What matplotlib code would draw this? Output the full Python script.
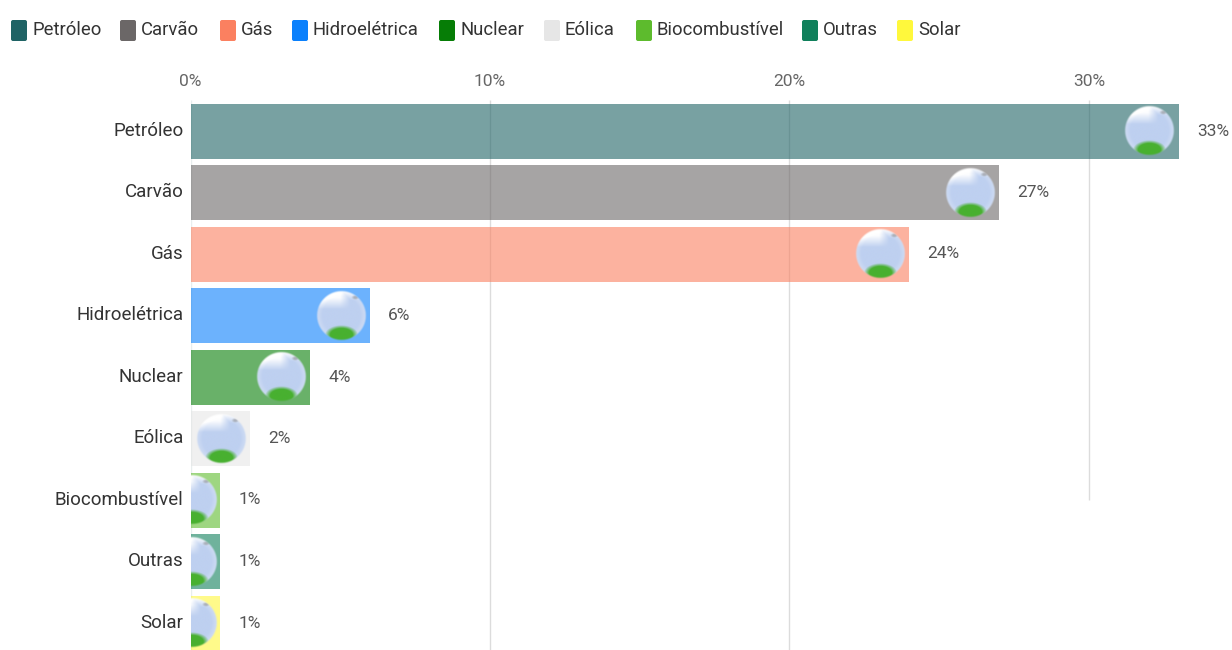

import numpy as np
import matplotlib
matplotlib.use("Agg")
import matplotlib.pyplot as plt
from matplotlib.patches import FancyBboxPatch
from matplotlib.transforms import ScaledTranslation

plt.rcParams['font.family'] = ['Roboto', 'DejaVu Sans']

# dados do gráfico
fontes = ["Petróleo", "Carvão", "Gás", "Hidroelétrica", "Nuclear", "Eólica",
          "Biocombustível", "Outras", "Solar"]
valores = [33, 27, 24, 6, 4, 2, 1, 1, 1]
cores = ["#1f6365", "#6b6767", "#fb8060", "#0a80fc", "#067d06", "#e6e6e6",
         "#5dbb2d", "#10805b", "#fff83c"]
ticks = [0, 10, 20, 30]
legenda_x = [11, 120, 220, 292, 439, 544, 636, 802, 897]

W, H = 1232, 650
fig = plt.figure(figsize=(W / 100, H / 100), dpi=100)
top = 100
ax = fig.add_axes([190.5 / W, 0, 1 - 190.5 / W, 1 - top / H])
px_x = 29.95
px_y = 61.5

# grade vertical
ax.vlines([10, 20], -0.5, 9, color="#dcdcdc", lw=1, zorder=1)
ax.vlines(30, -0.5, 6.0, color="#dcdcdc", lw=1, zorder=1)
ax.vlines(0, -0.5, 9, color="#e8eeee", lw=1, zorder=1)

y = np.arange(len(fontes))
ax.barh(y, valores, height=55 / px_y, color=cores, alpha=0.6, zorder=2)


# imagem da esfera em cima da barra
def esfera():
    n = 100
    yy, xx = np.mgrid[-1:1:n * 1j, -1:1:n * 1j]
    r = np.sqrt(xx ** 2 + yy ** 2)
    img = np.zeros((n, n, 4))
    img[..., :3] = np.array([190, 208, 240]) / 255
    # brilho em cima e na borda
    t = np.clip((-0.25 - yy) * 2.2, 0, 1) * np.clip((0.35 - xx) * 2.5, 0, 1)
    t = np.maximum(t, np.clip((-0.6 - yy) * 3, 0, 1) * 0.7)
    b = np.clip((r - 0.75) / 0.25, 0, 1) * 0.3
    for c in range(3):
        img[..., c] = img[..., c] + (1 - img[..., c]) * np.clip(t * 0.95 + b, 0, 1)
    # grama embaixo
    g = np.clip((1 - np.hypot(xx / 0.66, (yy - 0.76) / 0.38)) * 3, 0, 1)
    verde = np.array([72, 176, 48]) / 255
    # manchinha cinza no alto
    m = np.clip((1 - np.hypot((xx - 0.55) / 0.16, (yy + 0.72) / 0.1)) * 1.5, 0, 1) * 0.5
    for c in range(3):
        img[..., c] = img[..., c] * (1 - g) + verde[c] * g
        img[..., c] = img[..., c] * (1 - m) + 0.5 * m
    img[..., 3] = np.clip((1 - r) * 14, 0, 1)
    return img


img = esfera()
rx = 25.5 / px_x
ry = 25.5 / px_y
for i, v in enumerate(valores):
    cx = v - 29 / px_x
    cy = i
    ax.imshow(img, extent=[cx - rx, cx + rx, cy + ry, cy - ry], aspect="auto",
              zorder=3, interpolation="bilinear")
    ax.text(v + 19 / px_x - 0.03, i, f"{v}%", va="center", ha="left", fontsize=12.5,
            color="#555555", zorder=4)

ax.set_xlim(0, (W - 190.5) / px_x)
ax.set_ylim((650 - 131) / px_y, (top - 131) / px_y)

ax.set_yticks(y, fontes)
ax.set_xticks(ticks, [f"{t}%" for t in ticks])
ax.xaxis.tick_top()
ax.tick_params(axis="both", length=0)
ax.tick_params(axis="y", pad=5, labelsize=13.5, labelcolor="#333333")
ax.tick_params(axis="x", pad=8, labelsize=12.5, labelcolor="#666666")
for rot in ax.get_yticklabels():
    rot.set_transform(rot.get_transform() + ScaledTranslation(0, 1.5 / 72, fig.dpi_scale_trans))
for s in ax.spines.values():
    s.set_visible(False)

# legenda feita à mão
for nome, cor, x0 in zip(fontes, cores, legenda_x):
    fig.add_artist(FancyBboxPatch((x0, H - 41), 16, 21, boxstyle="round,pad=0,rounding_size=2",
                                  transform=None, fc=cor, ec="none"))
    fig.text((x0 + 21) / W, 1 - 30 / H, nome, va="center", ha="left", fontsize=13.3, color="#333333")

fig.savefig("out.png", dpi=100)
